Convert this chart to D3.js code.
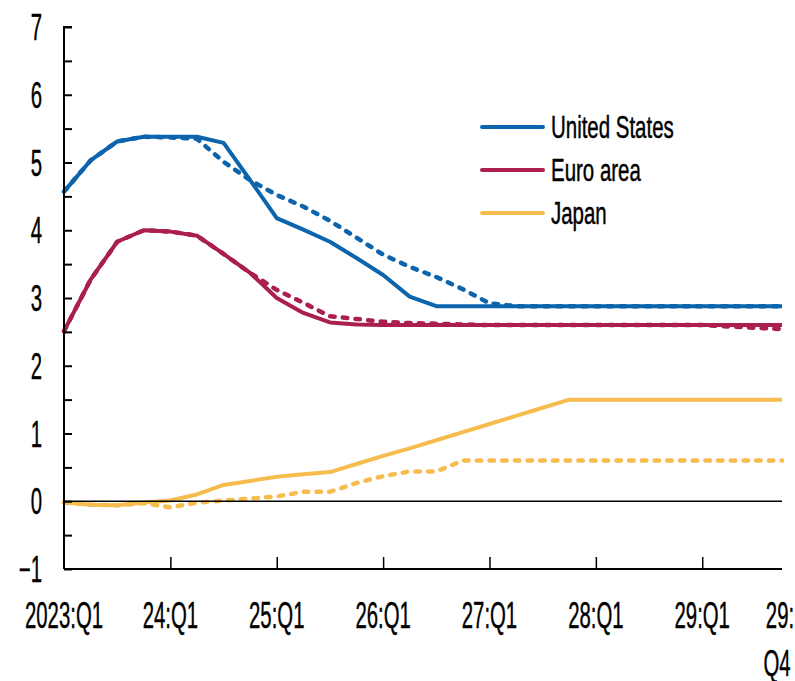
<!DOCTYPE html>
<html>
<head>
<meta charset="utf-8">
<script src="https://cdn.jsdelivr.net/npm/d3@7"></script>
<style>
    body { margin: 0; background: #fff; }
    text { font-family: "Liberation Sans", Arial, sans-serif; fill: #000; stroke: #000; stroke-width: 0.45px; }
</style>
</head>
<body>
<div id="chart"></div>
<script>
// quarters 2023:Q1 .. 2029:Q4
var quarters = [
    "23Q1", "23Q2", "23Q3", "23Q4", "24Q1", "24Q2", "24Q3", "24Q4",
    "25Q1", "25Q2", "25Q3", "25Q4", "26Q1", "26Q2", "26Q3", "26Q4",
    "27Q1", "27Q2", "27Q3", "27Q4", "28Q1", "28Q2", "28Q3", "28Q4",
    "29Q1", "29Q2", "29Q3", "29Q4"
];

// solid lines
var usBase = [4.57, 5.03, 5.31, 5.38, 5.38, 5.38, 5.29, 4.74, 4.18, 4.01, 3.83, 3.59, 3.34, 3.02,
    2.88, 2.88, 2.88, 2.88, 2.88, 2.88, 2.88, 2.88, 2.88, 2.88, 2.88, 2.88, 2.88, 2.88];
var euBase = [2.51, 3.27, 3.83, 4.0, 3.98, 3.92, 3.65, 3.37, 3.0, 2.78, 2.64, 2.61,
    2.6, 2.6, 2.6, 2.6, 2.6, 2.6, 2.6, 2.6, 2.6, 2.6, 2.6, 2.6, 2.6, 2.6, 2.6, 2.6];
var jpBase = [-0.02, -0.05, -0.06, -0.02, 0.01, 0.1, 0.24, 0.3, 0.36, 0.4, 0.43, 0.55, 0.67, 0.78,
    0.9, 1.02, 1.14, 1.26, 1.38, 1.5, 1.5, 1.5, 1.5, 1.5, 1.5, 1.5, 1.5, 1.5];

// dashed lines
var usAlt = [4.57, 5.03, 5.31, 5.38, 5.37, 5.35, 5.01, 4.74, 4.52, 4.35, 4.14, 3.89, 3.64, 3.46,
    3.31, 3.13, 2.92, 2.88, 2.88, 2.88, 2.88, 2.88, 2.88, 2.88, 2.88, 2.88, 2.88, 2.88];
var euAlt = [2.51, 3.27, 3.83, 4.0, 3.98, 3.92, 3.65, 3.37, 3.12, 2.93, 2.73, 2.69, 2.65, 2.63,
    2.62, 2.61, 2.6, 2.6, 2.6, 2.6, 2.6, 2.6, 2.6, 2.6, 2.6, 2.58, 2.56, 2.54];
var jpAlt = [-0.02, -0.05, -0.06, -0.03, -0.09, -0.02, 0.01, 0.04, 0.07, 0.14, 0.14, 0.27, 0.37, 0.44,
    0.44, 0.6, 0.6, 0.6, 0.6, 0.6, 0.6, 0.6, 0.6, 0.6, 0.6, 0.6, 0.6, 0.6];

var seriesNames = ["United States", "Euro area", "Japan"];
var seriesColors = ["#0B64AC", "#AA1F4D", "#F6BD4E"];

var yTicks = [-1, 0, 1, 2, 3, 4, 5, 6, 7];
var xTickIdx = [0, 4, 8, 12, 16, 20, 24, 27];
var xTickLabels = ["2023:Q1", "24:Q1", "25:Q1", "26:Q1", "27:Q1", "28:Q1", "29:Q1", "29:|Q4"];

var w = 795;
var h = 681;

var svg = d3.select("#chart")
    .append("svg")
    .attr("width", w)
    .attr("height", h);

var x = d3.scaleLinear()
    .domain([0, quarters.length - 1])
    .range([64, 782]);

var y = d3.scaleLinear()
    .domain([-1, 7])
    .range([569, 27]);

// narrow text helper (the reference font is tall and condensed)
function narrowText(px, py, str, size, sx, anchor) {
    svg.append("g")
        .attr("transform", "translate(" + px + "," + py + ")")
        .append("text")
        .attr("transform", "scale(" + sx + ",1)")
        .attr("text-anchor", anchor)
        .attr("font-size", size + "px")
        .text(str);
}

// lines
var line = d3.line()
    .x(function (d, i) { return x(i); })
    .y(function (d) { return y(d); });

var solids = [usBase, euBase, jpBase];
var dashes = [usAlt, euAlt, jpAlt];

solids.forEach(function (s, k) {
    svg.append("path")
        .attr("d", line(s))
        .attr("fill", "none")
        .attr("stroke", seriesColors[k])
        .attr("stroke-width", 4)
        .attr("stroke-linejoin", "round");
});

dashes.forEach(function (s, k) {
    svg.append("path")
        .attr("d", line(s))
        .attr("fill", "none")
        .attr("stroke", seriesColors[k])
        .attr("stroke-width", 4.5)
        .attr("stroke-linecap", "round")
        .attr("stroke-dasharray", "4.5 8.2");
});

// zero line
svg.append("line")
    .attr("x1", x(0)).attr("x2", x(quarters.length - 1))
    .attr("y1", y(0)).attr("y2", y(0))
    .attr("stroke", "#000")
    .attr("stroke-width", 1.3);

// y axis with minor ticks at half points
var yAxis = d3.axisRight(y)
    .tickValues(d3.range(-1, 7.01, 0.5))
    .tickSize(8)
    .tickFormat("");
var gy = svg.append("g")
    .attr("transform", "translate(" + x(0) + ",0)")
    .call(yAxis);
gy.select(".domain").attr("stroke-width", 2).attr("d", "M0," + y(-1) + "V" + y(7) + "h8");
gy.selectAll(".tick line").attr("stroke-width", 2);

yTicks.forEach(function (v) {
    narrowText(42, y(v) + 13, v < 0 ? "\u2212" + Math.abs(v) : String(v), 37, 0.55, "end");
});

// x axis, ticks pointing up
var xAxis = d3.axisTop(x)
    .tickValues(xTickIdx.slice(1, -1))
    .tickSize(12)
    .tickFormat("");
var gx = svg.append("g")
    .attr("transform", "translate(0," + y(-1) + ")")
    .call(xAxis);
gx.select(".domain").attr("stroke-width", 2).attr("d", "M" + x(0) + ",0H" + x(quarters.length - 1));
gx.selectAll(".tick line").attr("stroke-width", 1.5);

xTickIdx.forEach(function (q, i) {
    var parts = xTickLabels[i].split("|");
    var last = i === xTickIdx.length - 1;
    parts.forEach(function (p, j) {
        // the wrapped last label sits at the right edge, nudge it in
        var lx = last ? x(q) - 2 - j * 3 : x(q);
        narrowText(lx, 628 + j * 48, p, 37, 0.55, "middle");
    });
});

// legend
seriesNames.forEach(function (name, k) {
    var ly = 127 + k * 43;
    svg.append("line")
        .attr("x1", 482).attr("x2", 543)
        .attr("y1", ly).attr("y2", ly)
        .attr("stroke", seriesColors[k])
        .attr("stroke-width", 4)
        .attr("stroke-linecap", "round");
    narrowText(551, ly + 11, name, 31, 0.66, "start");
});
</script>
</body>
</html>
